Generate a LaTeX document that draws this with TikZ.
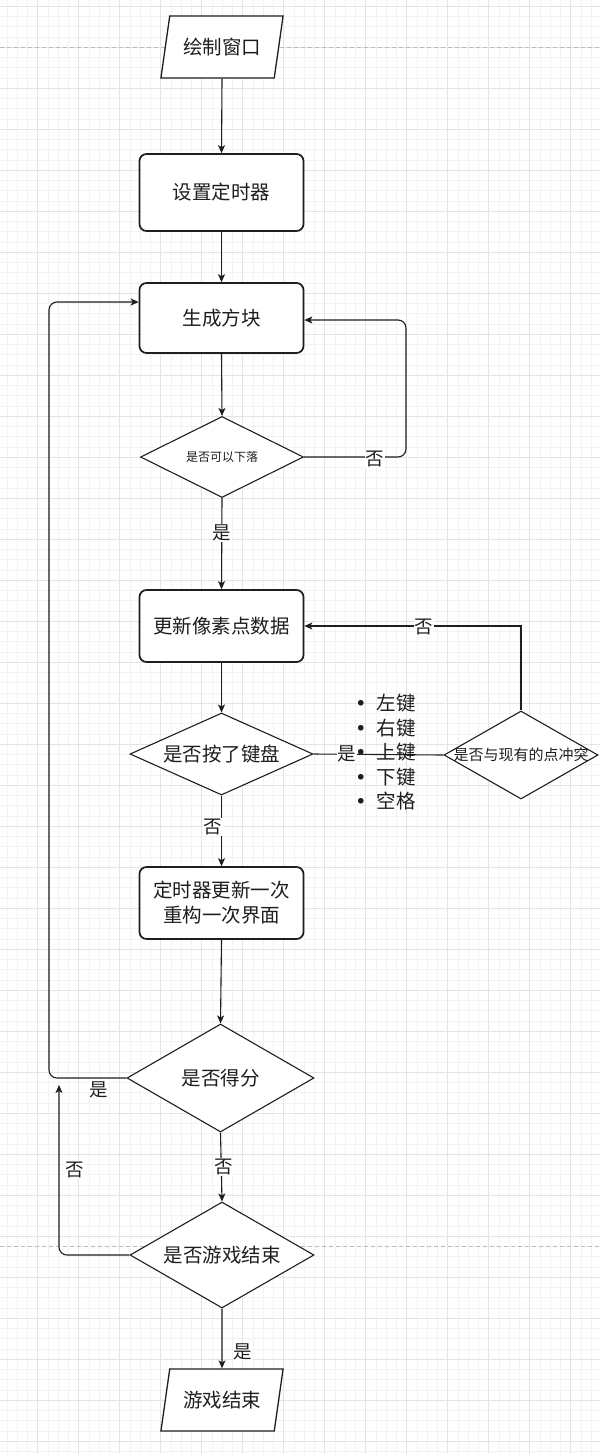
\documentclass[tikz,border=0pt]{standalone}
\usepackage{fontspec}
\setmainfont{Noto Sans CJK SC}
\newfontfamily\dejafont{DejaVu Sans}
\usetikzlibrary{shapes.geometric,arrows.meta,calc}
\definecolor{minorc}{HTML}{F2F2F2}
\definecolor{majorc}{HTML}{E4E4E4}
\definecolor{pagec}{HTML}{BBBBBB}
\definecolor{inkc}{HTML}{1E1E1E}
\newcommand{\keydot}{{\dejafont\textbullet}}
\begin{document}
\begin{tikzpicture}[x=1pt,y=-1pt,
  minorgrid/.style={draw=minorc, line width=0.8pt},
  majorgrid/.style={draw=majorc, line width=0.9pt},
  pagebreak/.style={draw=pagec, line width=0.8pt, dash pattern=on 4pt off 3pt},
  txt/.style={font=\fontsize{19.5}{25}\selectfont, text=inkc, align=center},
  box/.style={txt, draw=inkc, line width=1.7pt, rounded corners=7pt, fill=white, minimum width=164pt, inner sep=0pt},
  dia/.style={diamond, draw=inkc, line width=1.1pt, fill=white, inner sep=0pt},
  para/.style={txt, trapezium, trapezium left angle=70, trapezium right angle=110, trapezium stretches=true, draw=inkc, line width=1.3pt, fill=white, minimum width=123pt, minimum height=62pt, inner sep=0pt},
  conn/.style={draw=inkc, line width=1.1pt},
  arr/.style={conn, -{Stealth[length=8pt,width=7pt,inset=2pt]}},
  lbl/.style={fill=white, inner sep=1pt, text=inkc, font=\fontsize{18.5}{20}\selectfont},
]
\useasboundingbox (0,0) rectangle (600,1454);
\fill[white] (0,0) rectangle (600,1454);
% grid
\foreach \i in {0,...,58} {\draw[minorgrid] ({6.95+10.25*\i},0) -- ({6.95+10.25*\i},1454);}
\foreach \j in {0,...,141} {\draw[minorgrid] (0,{6.3+10.25*\j}) -- (600,{6.3+10.25*\j});}
\foreach \i in {0,...,13} {\draw[majorgrid] ({37.7+41*\i},0) -- ({37.7+41*\i},1454);}
\foreach \j in {0,...,35} {\draw[majorgrid] (0,{6.3+41*\j}) -- (600,{6.3+41*\j});}
\draw[pagebreak] (0,47) -- (600,47);
\draw[pagebreak] (0,1246) -- (600,1246);

% nodes
\node[para] (win) at (222,47) {绘制窗口};
\node[box, minimum height=77pt] (timer) at (221.5,192.5) {设置定时器};
\node[box, minimum height=70pt] (gen) at (221.5,318) {生成方块};
\node[dia, minimum width=163pt, minimum height=81pt,
      label={[txt, font=\fontsize{12}{14}\selectfont]center:是否可以下落}] (d1) at (222,457) {};
\node[box, minimum height=72pt] (upd) at (221.5,626) {更新像素点数据};
\node[dia, minimum width=183pt, minimum height=82pt,
      label={[txt]center:是否按了键盘}] (d2) at (221.5,754) {};
\node[dia, minimum width=154pt, minimum height=88pt,
      label={[txt, font=\fontsize{15}{17}\selectfont]center:是否与现有的点冲突}] (d3) at (521,755) {};
\node[box, minimum height=72pt] (tmr2) at (221.5,903) {定时器更新一次\\重构一次界面};
\node[dia, minimum width=187pt, minimum height=108pt,
      label={[txt]center:是否得分}] (d4) at (220.5,1078) {};
\node[dia, minimum width=184pt, minimum height=106pt,
      label={[txt]center:是否游戏结束}] (d5) at (222,1255) {};
\node[para] (fin) at (222,1400) {游戏结束};

\coordinate (r1) at (406,320);
\coordinate (l1) at (49,302);
\coordinate (l2) at (59,1085);

% connectors
\draw[arr] (win.south) -- (timer.north);
\draw[arr] (timer.south) -- (gen.north);
\draw[arr] (gen.south) -- (d1.north);
\draw[arr, rounded corners=8pt] (d1.east) -| (r1) -- (r1 -| gen.east);
\node[lbl] (n1) at (375,459) {否};
\draw[arr] (d1.south) -- (upd.north);
\node[lbl] (y1) at (222,533) {是};
\draw[arr] (upd.south) -- (d2.north);
\draw[conn] (d2.east) -- (d3.west);
\node[lbl] (y2) at (347,754) {是};
\draw[arr] (d3.north) |- (upd.east);
\node[lbl] (n2) at (424,627) {否};
\draw[arr] (d2.south) -- (tmr2.north);
\node[lbl] (n3) at (213,827) {否};
\draw[arr] (tmr2.south) -- (d4.north);
\draw[arr, rounded corners=8pt] (d4.west) -| (l1) -- (l1 -| gen.west);
\node[lbl] (y3) at (99,1090) {是};
\draw[arr] (d4.south) -- (d5.north);
\node[lbl] (n4) at (224,1167) {否};
\draw[arr, rounded corners=8pt] (d5.west) -| (l2);
\node[lbl] (n5) at (75,1170) {否};
\draw[arr] (d5.south) -- (fin.north);
\node[lbl] (y4) at (243,1352) {是};

% key list
\node[anchor=west, inner sep=0pt, text=inkc, font=\fontsize{19.5}{24.5}\selectfont] (keys) at (355,755)
  {\begin{tabular}{@{}l@{\hspace{10pt}}l@{}}
   \keydot & 左键\\
   \keydot & 右键\\
   \keydot & 上键\\
   \keydot & 下键\\
   \keydot & 空格
  \end{tabular}};
\end{tikzpicture}
\end{document}
